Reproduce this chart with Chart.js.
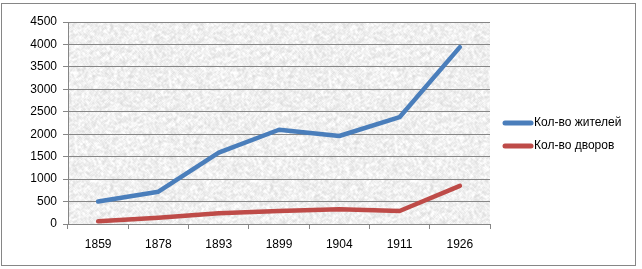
<!DOCTYPE html>
<html>
<head>
<meta charset="utf-8">
<script src="https://cdn.jsdelivr.net/npm/chart.js@4"></script>
<style>
html,body{margin:0;padding:0;background:#fff;}
#wrap{width:642px;height:269px;position:relative;}
</style>
</head>
<body>
<div id="wrap"><canvas id="c" width="642" height="269"></canvas></div>
<script>
const categories = ['1859', '1878', '1893', '1899', '1904', '1911', '1926'];
const residents = [500, 720, 1590, 2100, 1960, 2380, 3940];
const households = [60, 140, 240, 290, 330, 290, 850];
const seriesNames = ['Кол-во жителей', 'Кол-во дворов'];
const seriesColors = ['#4A7EBB', '#BE4B48'];

const FONT = "'Liberation Sans', Arial, sans-serif";

// deterministic granite-like texture
function makeTexture() {
  const w = 160, h = 160;
  const cv = document.createElement('canvas');
  cv.width = w; cv.height = h;
  const cx = cv.getContext('2d');
  const img = cx.createImageData(w, h);
  let s = 12345;
  const rnd = () => { s = (s * 1103515245 + 12345) & 0x7fffffff; return s / 0x7fffffff; };
  const base = new Float32Array(w * h);
  for (let i = 0; i < w * h; i++) base[i] = rnd();
  for (let y = 0; y < h; y++) {
    for (let x = 0; x < w; x++) {
      let a = 0;
      for (let dy = -1; dy <= 1; dy++) for (let dx = -1; dx <= 1; dx++) {
        a += base[((y + dy + h) % h) * w + ((x + dx + w) % w)];
      }
      a /= 9;
      const v = Math.min(255, Math.round(240 + (a - 0.5) * 50 + (base[y * w + x] - 0.5) * 14));
      const i = (y * w + x) * 4;
      img.data[i] = v; img.data[i + 1] = v; img.data[i + 2] = v; img.data[i + 3] = 255;
    }
  }
  cx.putImageData(img, 0, 0);
  return cv;
}
const texture = makeTexture();

const bgPlugin = {
  id: 'bg',
  beforeDraw(chart) {
    const ctx = chart.ctx, a = chart.chartArea;
    ctx.save();
    ctx.fillStyle = '#fff';
    ctx.fillRect(0, 0, chart.width, chart.height);
    ctx.strokeStyle = '#868686';
    ctx.lineWidth = 1;
    ctx.strokeRect(1.5, 3.5, 634, 262);
    ctx.fillStyle = ctx.createPattern(texture, 'repeat');
    ctx.fillRect(a.left, a.top, a.right - a.left, a.bottom - a.top);
    ctx.restore();
  },
  afterDraw(chart) {
    const ctx = chart.ctx;
    ctx.save();
    const ys = [123, 146];
    chart.data.datasets.forEach((ds, i) => {
      ctx.strokeStyle = ds.borderColor;
      ctx.lineWidth = 5;
      ctx.lineCap = 'round';
      ctx.beginPath();
      ctx.moveTo(505, ys[i]);
      ctx.lineTo(531, ys[i]);
      ctx.stroke();
      ctx.fillStyle = '#000';
      ctx.font = '12px ' + FONT;
      ctx.textBaseline = 'middle';
      ctx.textAlign = 'left';
      ctx.fillText(ds.label, 534, ys[i]);
    });
    ctx.restore();
  }
};

new Chart(document.getElementById('c'), {
  type: 'line',
  data: {
    labels: categories,
    datasets: [
      { label: seriesNames[0], data: residents, borderColor: seriesColors[0], backgroundColor: seriesColors[0] },
      { label: seriesNames[1], data: households, borderColor: seriesColors[1], backgroundColor: seriesColors[1] }
    ]
  },
  options: {
    responsive: false,
    animation: false,
    devicePixelRatio: 1,
    layout: { padding: { left: 0, top: 22, right: 152, bottom: 0 } },
    elements: {
      line: { borderWidth: 4.5, tension: 0, borderCapStyle: 'round', borderJoinStyle: 'round' },
      point: { radius: 0, hoverRadius: 0 }
    },
    plugins: { legend: { display: false }, tooltip: { enabled: false } },
    scales: {
      x: {
        offset: true,
        grid: { offset: true, drawOnChartArea: false, drawTicks: true, tickLength: 5, color: '#868686' },
        border: { display: true, color: '#868686' },
        ticks: { color: '#000', font: { family: FONT, size: 12 }, padding: 8, maxRotation: 0 },
        afterFit(s) { s.height = 45; }
      },
      y: {
        min: 0, max: 4500,
        grid: { color: '#868686', tickLength: 5 },
        border: { display: true, color: '#868686' },
        ticks: { stepSize: 500, color: '#000', font: { family: FONT, size: 12 }, padding: 6,
          callback: (v) => String(v) },
        afterFit(s) { s.width = 68; }
      }
    }
  },
  plugins: [bgPlugin]
});
</script>
</body>
</html>
